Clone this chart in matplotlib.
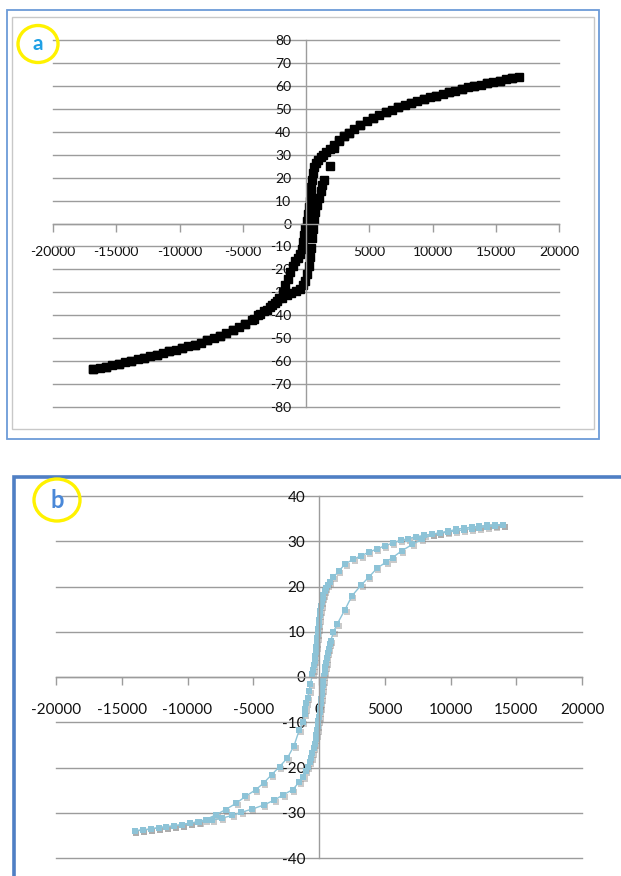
import matplotlib
matplotlib.use("Agg")
import matplotlib.pyplot as plt
from matplotlib.patches import Rectangle, Ellipse
from matplotlib.transforms import offset_copy
from matplotlib.ticker import FuncFormatter

plt.rcParams['axes.unicode_minus'] = False
plt.rcParams['font.family'] = ['Lato', 'DejaVu Sans']

# ---------------- data: panel a (field, magnetisation) ----------------
a_desc_h = [16800, 16300, 15800, 15300, 14800, 14300, 13800, 13300, 12800, 12300,
            11800, 11300, 10800, 10300, 9800, 9300, 8800, 8300, 7800, 7300,
            6800, 6300, 5800, 5300, 4800, 4300, 3800, 3400, 3000, 2600,
            2200, 1900, 1600, 1350, 1150, 950, 800, 650, 550, 480,
            420, 370, 320, 250, 160, 60, -40, -130, -220, -330,
            -480, -650, -850, -1050, -1250, -1450, -1650, -1850, -2100, -2450,
            -2850, -3300, -3800, -4300, -4800, -5300, -5800, -6300, -6800, -7300,
            -7800, -8300, -8800, -9300, -9800, -10300, -10800, -11300, -11800, -12300,
            -12800, -13300, -13800, -14300, -14800, -15300, -15800, -16300, -16800]
a_desc_m = [64.0, 63.4, 62.8, 62.3, 61.7, 61.1, 60.5, 59.9, 59.3, 58.6,
            57.9, 57.2, 56.5, 55.8, 55.0, 54.2, 53.4, 52.5, 51.6, 50.6,
            49.5, 48.4, 47.2, 45.9, 44.5, 43.0, 41.3, 39.6, 38.0, 36.2,
            34.2, 32.6, 31.2, 30.0, 29.0, 27.8, 26.3, 24.5, 22.0, 19.0,
            16.0, 13.0, 10.0, 7.0, 4.0, 1.0, -2.0, -5.0, -8.0, -11.0,
            -13.5, -15.0, -16.5, -18.5, -21.0, -24.0, -27.0, -30.0, -32.5, -34.5,
            -36.3, -38.0, -40.0, -42.0, -43.8, -45.3, -46.6, -47.8, -48.9, -50.0,
            -51.0, -51.9, -52.8, -53.6, -54.4, -55.1, -55.8, -56.5, -57.2, -57.9,
            -58.5, -59.2, -59.8, -60.5, -61.1, -61.8, -62.4, -63.0, -63.6]

a_asc_h = [-16800, -15800, -14800, -13800, -12800, -11800, -10800, -9800, -8800, -7800,
           -6800, -5800, -4800, -4100, -3600, -3100, -2700, -2300, -1900, -1500,
           -1150, -800, -500, -250, -50, 100, 220, 320, 400, 470,
           540, 620, 720, 850, 1000, 1150, 1300, 1450, 1900, 2250,
           2600, 3000, 3400, 4300, 5300, 6300, 7300, 8300, 9300, 10300,
           11300, 12300, 13300, 14300, 15300, 16300]
a_asc_m = [-63.6, -62.4, -61.1, -59.8, -58.5, -57.2, -55.8, -54.4, -52.8, -51.0,
           -48.9, -46.6, -43.8, -41.5, -39.5, -37.5, -35.5, -33.8, -32.3, -31.2,
           -30.3, -29.5, -28.5, -27.0, -25.0, -22.0, -18.5, -14.5, -10.5, -6.5,
           -2.5, 1.5, 5.0, 8.0, 11.0, 14.0, 17.0, 19.0, 25.0, 33.0,
           36.0, 38.0, 39.6, 43.0, 45.9, 48.4, 50.6, 52.5, 54.2, 55.8,
           57.2, 58.6, 59.9, 61.1, 62.3, 63.4]

# ---------------- data: panel b ----------------
b_desc_h = [14000, 13400, 12800, 12200, 11600, 11000, 10400, 9800, 9200, 8600,
            8000, 7400, 6800, 6200, 5600, 5000, 4400, 3800, 3200, 2600,
            2000, 1500, 1100, 800, 650, 520, 420, 340, 270, 210,
            160, 110, 60, 20, -20, -60, -100, -140, -180, -220,
            -260, -300, -340, -390, -440, -500, -650, -760, -870, -960,
            -1030, -1100, -1250, -1500, -1900, -2400, -3000, -3600, -4200, -4800,
            -5600, -6300, -7100, -7800, -8600, -9200, -9800, -10400, -11000, -11600,
            -12200, -12800, -13400, -14000]
b_desc_m = [33.6, 33.4, 33.2, 33.0, 32.8, 32.5, 32.3, 32.0, 31.8, 31.6,
            31.3, 31.0, 30.6, 30.2, 29.6, 29.0, 28.3, 27.6, 26.8, 26.0,
            25.0, 23.4, 22.0, 21.0, 20.4, 19.7, 19.0, 18.2, 17.4, 16.5,
            15.6, 14.6, 13.6, 12.6, 11.6, 10.6, 9.6, 8.6, 7.6, 6.6,
            5.6, 4.6, 3.6, 2.6, 1.6, 0.6, -1.5, -3.0, -4.6, -5.8,
            -7.0, -8.2, -10.0, -11.7, -15.2, -17.9, -19.8, -21.6, -23.4, -24.9,
            -26.4, -27.9, -29.3, -30.4, -31.5, -32.0, -32.3, -32.6, -32.9, -33.1,
            -33.3, -33.6, -33.8, -34.0]

b_asc_h = [-14000, -13400, -12800, -12200, -11600, -11000, -10400, -9800, -9100, -8100,
           -7400, -6600, -5900, -5100, -4200, -3400, -2700, -2000, -1500, -1200,
           -1000, -850, -720, -600, -500, -410, -330, -260, -200, -140,
           -90, -40, 0, 40, 80, 120, 160, 200, 240, 280,
           320, 370, 420, 480, 540, 600, 660, 740, 820, 890,
           1100, 1400, 1980, 2500, 3200, 3800, 4400, 5100, 5600, 6300,
           7100, 7800, 8600, 9200, 9800, 10400, 11000, 11600, 12200, 12800,
           13400, 14000]
b_asc_m = [-34.0, -33.8, -33.6, -33.3, -33.1, -32.9, -32.6, -32.3, -32.0, -31.6,
           -31.2, -30.6, -29.9, -29.2, -28.3, -27.2, -26.0, -24.9, -23.2, -22.0,
           -20.8, -19.8, -18.8, -17.8, -16.8, -15.8, -14.8, -13.8, -12.8, -11.8,
           -10.8, -9.8, -8.8, -7.8, -6.8, -5.8, -4.8, -3.8, -2.8, -1.8,
           -0.8, 0.2, 1.2, 2.2, 3.2, 4.2, 5.2, 6.2, 7.2, 8.0,
           10.0, 11.8, 14.9, 17.9, 20.3, 22.1, 24.0, 25.4, 26.4, 27.9,
           29.3, 30.4, 31.5, 31.9, 32.2, 32.6, 32.9, 33.1, 33.3, 33.5,
           33.6, 33.7]

x_ticks = [-20000, -15000, -10000, -5000, 0, 5000, 10000, 15000, 20000]
a_yticks = [-80, -70, -60, -50, -40, -30, -20, -10, 0, 10, 20, 30, 40, 50, 60, 70, 80]
b_yticks = [-40, -30, -20, -10, 0, 10, 20, 30, 40]

# ---------------- figure ----------------
W, H = 621, 876
fig = plt.figure(figsize=(W / 100, H / 100), dpi=100)


def axes_px(x0, y0, x1, y1):
    return fig.add_axes([x0 / W, 1 - y1 / H, (x1 - x0) / W, (y1 - y0) / H])


def rect_px(x0, y0, x1, y1, color, lw):
    fig.patches.append(Rectangle((x0 / W, 1 - y1 / H), (x1 - x0) / W, (y1 - y0) / H,
                                 transform=fig.transFigure, fill=False,
                                 edgecolor=color, linewidth=lw))


def badge(cx, cy, w, h, letter, color, size):
    fig.patches.append(Ellipse((cx / W, 1 - cy / H), w / W, h / H,
                               transform=fig.transFigure, fill=False,
                               edgecolor='#FFF200', linewidth=2.4))
    fig.text(cx / W, 1 - cy / H, letter, color=color, fontsize=size,
             ha='center', va='center', fontweight='bold')


def style(ax, ylim, yticks, fs, xpad, ypad, show_x0):
    grid_c = '#9C9C9C'
    ax.set_xlim(-20000, 20000)
    ax.set_ylim(*ylim)
    ax.set_facecolor('none')
    for s in ('top', 'right'):
        ax.spines[s].set_visible(False)
    for s in ('left', 'bottom'):
        ax.spines[s].set_position(('data', 0))
        ax.spines[s].set_color(grid_c)
        ax.spines[s].set_linewidth(1.0)
    ax.set_xticks(x_ticks)
    ax.set_yticks(yticks)
    ax.xaxis.set_major_formatter(FuncFormatter(
        lambda v, p: '' if (v == 0 and not show_x0) else f'{int(v)}'))
    ax.yaxis.set_major_formatter(FuncFormatter(lambda v, p: f'{int(v)}'))
    ax.yaxis.grid(True, color=grid_c, linewidth=1.0)
    ax.set_axisbelow(True)
    for gl in ax.yaxis.get_gridlines():
        gl.set_clip_on(False)
    ax.tick_params(axis='x', direction='out', length=6, width=1, color=grid_c,
                   pad=xpad, labelsize=fs, labelcolor='#111111')
    ax.tick_params(axis='y', length=0, pad=ypad, labelsize=fs, labelcolor='#111111')


# ---- panel a ----
rect_px(7, 10, 599, 439, '#6C9BD8', 1.3)
rect_px(12, 17, 594, 429, '#C8C8C8', 1.0)
ax_a = axes_px(53, 40, 559, 407)
style(ax_a, (-80, 80), a_yticks, 10, 10.5, 10.5, False)
ax_a.plot(a_desc_h, a_desc_m, ls='none', marker='s', ms=5.6, color='black', clip_on=False)
ax_a.plot(a_asc_h, a_asc_m, ls='none', marker='s', ms=5.6, color='black', clip_on=False)
badge(38, 44, 40, 37, 'a', '#1FA0E5', 15)

# ---- panel b ----
rect_px(14, 477, 660, 920, '#4F7FC4', 2.6)
ax_b = axes_px(56, 496, 582, 858)
style(ax_b, (-40, 40), b_yticks, 11, 12.5, 10.0, True)
blue = '#8DC3D7'
shadow = offset_copy(ax_b.transData, fig=fig, x=1.5, y=-2.0, units='dots')
for hh, mm in ((b_desc_h, b_desc_m), (b_asc_h, b_asc_m)):
    ax_b.plot(hh, mm, ls='none', marker='s', ms=4.8, color='#8A8A8A', alpha=0.45,
              markeredgewidth=0, transform=shadow, clip_on=False)
for hh, mm in ((b_desc_h, b_desc_m), (b_asc_h, b_asc_m)):
    ax_b.plot(hh, mm, '-', lw=1.0, marker='s', ms=4.8, color=blue,
              markeredgewidth=0, clip_on=False)
badge(57, 500, 46, 42, 'b', '#4A88D8', 17)

fig.savefig('out.png', dpi=100)
